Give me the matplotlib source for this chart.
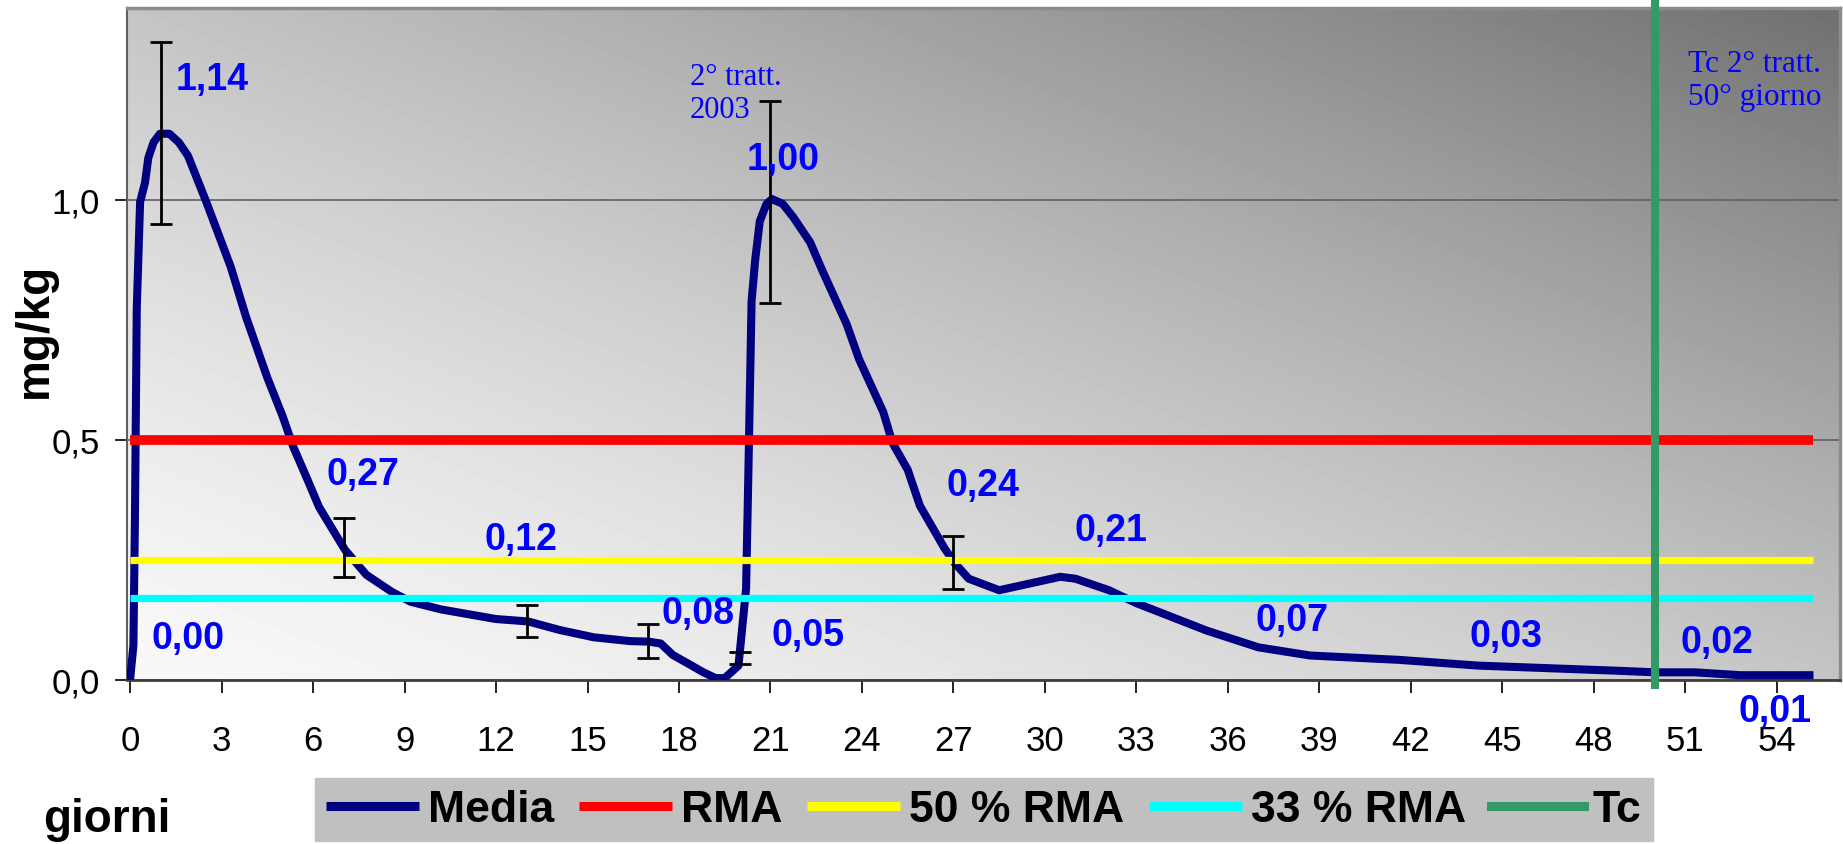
"""
Andamento della media (mg/kg) nei giorni dopo il trattamento,
con soglie RMA, 50 % RMA, 33 % RMA e tempo di carenza (Tc).
"""

import numpy as np
import matplotlib
matplotlib.use("Agg")
import matplotlib.pyplot as plt
from matplotlib.ticker import FuncFormatter

plt.rcParams['font.family'] = ['Liberation Sans', 'DejaVu Sans']

# Curva della media
MEDIA_GIORNI = [0.00, 0.11, 0.16, 0.22, 0.33, 0.49, 0.60, 0.77, 0.98, 1.29,
                1.60, 1.90, 2.50, 3.30, 3.80, 4.50, 5.00, 5.35, 5.80, 6.20,
                6.80, 7.05, 7.75, 8.60, 9.20, 10.20, 12.00, 13.05, 14.10, 15.20,
                16.40, 17.00, 17.40, 17.80, 18.25, 18.80, 19.20, 19.50, 19.95, 20.20,
                20.27, 20.38, 20.50, 20.65, 20.87, 21.05, 21.40, 21.75, 22.30, 22.70,
                23.50, 23.90, 24.70, 25.00, 25.50, 25.90, 26.30, 26.70, 27.05, 27.50,
                28.50, 29.50, 30.50, 31.00, 32.10, 33.00, 35.30, 37.00, 38.70, 41.60,
                44.20, 48.90, 50.00, 51.30, 52.80, 55.20]
MEDIA_VALORI = [0.000, 0.072, 0.335, 0.773, 0.996, 1.036, 1.088, 1.120, 1.138, 1.138,
                1.120, 1.092, 0.996, 0.861, 0.757, 0.630, 0.550, 0.486, 0.420, 0.360,
                0.297, 0.271, 0.219, 0.183, 0.163, 0.147, 0.127, 0.122, 0.104, 0.089,
                0.081, 0.080, 0.076, 0.052, 0.036, 0.016, 0.004, 0.004, 0.030, 0.190,
                0.414, 0.789, 0.876, 0.956, 0.992, 1.002, 0.992, 0.964, 0.912, 0.853,
                0.741, 0.669, 0.558, 0.494, 0.438, 0.363, 0.319, 0.275, 0.243, 0.211,
                0.187, 0.201, 0.215, 0.211, 0.187, 0.160, 0.103, 0.068, 0.051, 0.042,
                0.030, 0.019, 0.016, 0.016, 0.010, 0.010]

# Barre d'errore (deviazione standard)
ERR_GIORNI = [1, 7, 13, 17, 20, 21, 27]
ERR_MEDIA = [1.14, 0.276, 0.123, 0.081, 0.046, 0.996, 0.244]
ERR_DS = [0.19, 0.061, 0.033, 0.036, 0.0125, 0.21, 0.055]

# Soglie
RMA = 0.5
RMA_50 = 0.25
RMA_33 = 0.17
TC_GIORNO = 50

# Etichette dei valori: testo, giorno, livello
ETICHETTE = ['1,14', '0,27', '0,12', '0,00', '0,08', '0,05', '1,00',
             '0,24', '0,21', '0,07', '0,03', '0,02', '0,01']
ETICH_X = [2.68, 7.65, 12.81, 1.91, 18.61, 22.22, 21.40,
           27.96, 32.15, 38.09, 45.11, 52.04, 53.93]
ETICH_Y = [1.252, 0.429, 0.293, 0.0885, 0.139, 0.093, 1.085,
           0.407, 0.312, 0.124, 0.092, 0.0785, -0.064]

X_TICKS = list(range(0, 55, 3))
Y_TICKS = [0.0, 0.5, 1.0]

fig = plt.figure(figsize=(18.43, 8.45), dpi=100)
ax = fig.add_axes([127 / 1843, 1 - 681 / 845, (1840 - 127) / 1843, (681 - 9) / 845])
ax.set_xlim(-0.1, 56.07)
ax.set_ylim(0, 1.4)

# sfondo sfumato (chiaro in basso a sinistra, scuro in alto a destra)
u, v = np.meshgrid(np.linspace(0, 1, 300), np.linspace(0, 1, 200))
t = ((u + v) / 2) ** 1.4
sfondo = 248 - 136 * t
ax.imshow(sfondo, extent=(-0.1, 56.07, 0, 1.4), origin='lower', aspect='auto',
          cmap='gray', vmin=0, vmax=255, interpolation='bilinear', zorder=0)

ax.yaxis.grid(True, color='#606060', linewidth=1.2, zorder=1)
ax.set_axisbelow(True)

media, = ax.plot(MEDIA_GIORNI, MEDIA_VALORI, color='#000080', linewidth=5.8,
                 solid_joinstyle='round', solid_capstyle='butt', zorder=3, label='Media')
estremi = [MEDIA_GIORNI[0], MEDIA_GIORNI[-1]]
rma, = ax.plot(estremi, [RMA, RMA], color='#ff0000', linewidth=7,
               solid_capstyle='butt', zorder=4, label='RMA')
rma50, = ax.plot(estremi, [RMA_50, RMA_50], color='#ffff00', linewidth=5.2,
                 solid_capstyle='butt', zorder=4, label='50 % RMA')
rma33, = ax.plot(estremi, [RMA_33, RMA_33], color='#00ffff', linewidth=5.2,
                 solid_capstyle='butt', zorder=4, label='33 % RMA')
tc = ax.axvline(TC_GIORNO, ymin=-0.007, ymax=1.011, color='#339966', linewidth=5.8,
                clip_on=False, zorder=5, label='Tc')

ax.errorbar(ERR_GIORNI, ERR_MEDIA, yerr=ERR_DS, fmt='none', ecolor='black',
            elinewidth=2, capsize=8, capthick=2, zorder=6)

for testo, x, y in zip(ETICHETTE, ETICH_X, ETICH_Y):
    ax.text(x, y, testo, color='#0000ff', fontsize=27, fontweight='bold',
            ha='center', va='center', zorder=7, clip_on=False)

ax.text(18.36, 1.223, '2° tratt.\n2003', color='#0000ff', fontsize=22,
        family=['Liberation Serif', 'DejaVu Serif'], ha='left', va='center',
        linespacing=1.15, zorder=7)
ax.text(51.1, 1.25, 'Tc 2° tratt.\n50° giorno', color='#0000ff', fontsize=22.5,
        family=['Liberation Serif', 'DejaVu Serif'], ha='left', va='center',
        linespacing=1.15, zorder=7)

# assi
ax.set_xticks(X_TICKS)
ax.set_yticks(Y_TICKS)
ax.yaxis.set_major_formatter(FuncFormatter(lambda val, pos: f'{val:.1f}'.replace('.', ',')))
ax.tick_params(axis='x', direction='out', length=9.5, width=1.2, pad=22, labelsize=25)
ax.tick_params(axis='y', direction='out', length=8.5, width=1.2, pad=11, labelsize=25)

for lato in ['top', 'right']:
    ax.spines[lato].set_color('#8c8c8c')
    ax.spines[lato].set_linewidth(2.5)
ax.spines['left'].set_color('#606060')
ax.spines['left'].set_linewidth(1.5)
ax.spines['bottom'].set_color('#404040')
ax.spines['bottom'].set_linewidth(2)

fig.text(35 / 1843, 1 - 330 / 845, 'mg/kg', rotation=90, fontsize=33,
         fontweight='bold', ha='center', va='center')
fig.text(43 / 1843, 1 - 832 / 845, 'giorni', fontsize=33, fontweight='bold',
         ha='left', va='baseline')

leg = fig.legend(handles=[media, rma, rma50, rma33, tc], loc='upper left',
                 bbox_to_anchor=(315 / 1843, 1 - 779 / 845), ncol=5,
                 prop={'size': 32, 'weight': 'bold'}, frameon=True, fancybox=False,
                 facecolor='#c0c0c0', edgecolor='#c0c0c0', framealpha=1,
                 handlelength=2.1, handletextpad=0.2, columnspacing=0.55,
                 borderpad=0.25, borderaxespad=0)
for linea in leg.get_lines():
    linea.set_linewidth(6.5)

fig.savefig('out.png', dpi=100)
